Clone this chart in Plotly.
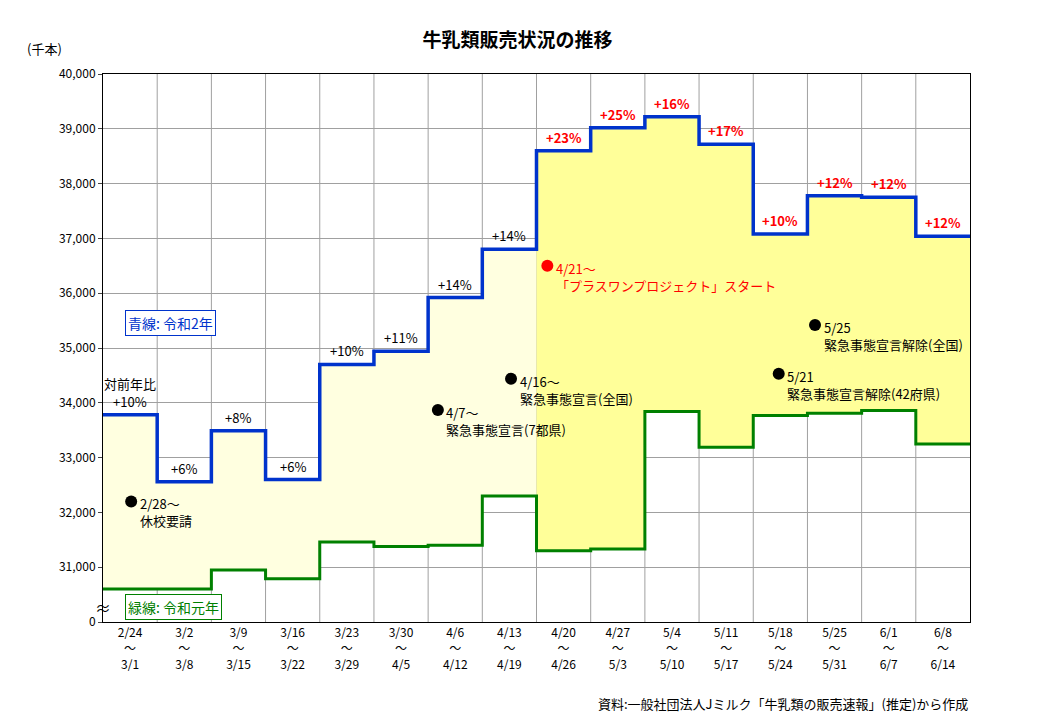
import plotly.graph_objects as go

weeks = ["2/24<br>～<br>3/1", "3/2<br>～<br>3/8", "3/9<br>～<br>3/15", "3/16<br>～<br>3/22",
         "3/23<br>～<br>3/29", "3/30<br>～<br>4/5", "4/6<br>～<br>4/12", "4/13<br>～<br>4/19",
         "4/20<br>～<br>4/26", "4/27<br>～<br>5/3", "5/4<br>～<br>5/10", "5/11<br>～<br>5/17",
         "5/18<br>～<br>5/24", "5/25<br>～<br>5/31", "6/1<br>～<br>6/7", "6/8<br>～<br>6/14"]
r2_sales = [33780, 32560, 33490, 32600, 34700, 34940, 35920, 36800,
            38600, 39020, 39220, 38720, 37080, 37780, 37750, 37040]
r1_sales = [30600, 30600, 30950, 30790, 31460, 31380, 31400, 32300,
            31300, 31330, 33840, 33190, 33770, 33810, 33860, 33250]
yoy = ["+10%", "+6%", "+8%", "+6%", "+10%", "+11%", "+14%", "+14%",
       "+23%", "+25%", "+16%", "+17%", "+10%", "+12%", "+12%", "+12%"]

events = [
    (0.52, 32200, "2/28～<br>休校要請", "black"),
    (6.18, 33870, "4/7～<br>緊急事態宣言(7都県)", "black"),
    (7.53, 34440, "4/16～<br>緊急事態宣言(全国)", "black"),
    (8.2, 36500, "4/21～<br>「プラスワンプロジェクト」スタート", "red"),
    (12.47, 34530, "5/21<br>緊急事態宣言解除(42府県)", "black"),
    (13.14, 35420, "5/25<br>緊急事態宣言解除(全国)", "black"),
]

FONT = "Noto Sans CJK JP"


def steps(vals, start, end):
    xs, ys = [], []
    for i in range(start, end):
        xs += [i, i + 1]
        ys += [vals[i], vals[i]]
    return xs, ys


fig = go.Figure()

# shaded areas between the two years
for (a, b, col) in [(0, 8, "#FFFFE0"), (8, 16, "#FFFF99")]:
    gx, gy = steps(r1_sales, a, b)
    bx, by = steps(r2_sales, a, b)
    fig.add_trace(go.Scatter(x=gx, y=gy, mode="lines", line=dict(width=0),
                             showlegend=False, hoverinfo="skip"))
    fig.add_trace(go.Scatter(x=bx, y=by, mode="lines", line=dict(width=0),
                             fill="tonexty", fillcolor=col,
                             showlegend=False, hoverinfo="skip"))

gx, gy = steps(r1_sales, 0, 16)
bx, by = steps(r2_sales, 0, 16)
fig.add_trace(go.Scatter(x=gx, y=gy, mode="lines", line=dict(color="#008000", width=3),
                         showlegend=False))
fig.add_trace(go.Scatter(x=bx, y=by, mode="lines", line=dict(color="#0033CC", width=3.5),
                         showlegend=False))

fig.add_trace(go.Scatter(x=[e[0] for e in events], y=[e[1] for e in events], mode="markers",
                         marker=dict(size=12, color=[e[3] for e in events]),
                         showlegend=False))
for x, y, t, c in events:
    fig.add_annotation(x=x + 0.12, y=y, text=t, showarrow=False, xanchor="left",
                       yanchor="top", yshift=9, align="left",
                       font=dict(size=13, color=c, family=FONT))

for i, (v, t) in enumerate(zip(r2_sales, yoy)):
    red = i >= 8
    fig.add_annotation(x=i + 0.5, y=v, text=("<b>%s</b>" % t) if red else t,
                       showarrow=False, yanchor="bottom", yshift=2,
                       font=dict(size=13, color="red" if red else "black", family=FONT))
fig.add_annotation(x=0.5, y=r2_sales[0], text="対前年比", showarrow=False,
                   yanchor="bottom", yshift=20, font=dict(size=13, family=FONT))

fig.add_annotation(x=0.4, y=35450, text="青線: 令和2年", showarrow=False, xanchor="left",
                   bordercolor="#0033CC", borderwidth=1, bgcolor="white", borderpad=2,
                   font=dict(size=14, color="#0033CC", family=FONT))
fig.add_annotation(x=0.4, y=30280, text="緑線: 令和元年", showarrow=False, xanchor="left",
                   bordercolor="#008000", borderwidth=1, bgcolor="white", borderpad=2,
                   font=dict(size=14, color="#008000", family=FONT))
fig.add_annotation(x=0.0, y=30280, text="≈", showarrow=False, xanchor="center",
                   font=dict(size=16, family=FONT))

fig.add_annotation(xref="paper", yref="paper", x=-0.09, y=1.0, yshift=14, text="(千本)",
                   showarrow=False, xanchor="left", yanchor="bottom",
                   font=dict(size=13, family=FONT))
fig.add_annotation(xref="paper", yref="paper", x=1.0, y=0, yshift=-70,
                   text="資料:一般社団法人Jミルク「牛乳類の販売速報」(推定)から作成",
                   showarrow=False, xanchor="right", yanchor="top",
                   font=dict(size=13, family=FONT))

ticks = list(range(30000, 40001, 1000))
fig.update_layout(
    width=1040, height=720, paper_bgcolor="white", plot_bgcolor="white",
    margin=dict(l=95, r=78, t=66, b=106),
    title=dict(text="<b>牛乳類販売状況の推移</b>", x=0.49, y=0.965,
               font=dict(size=19, family=FONT, color="black")),
    font=dict(family=FONT, color="black"),
    xaxis=dict(range=[0, 16], tickvals=[i + 0.5 for i in range(16)], ticktext=weeks,
               showgrid=False, showline=True, linecolor="black", mirror=True,
               tickfont=dict(size=12), zeroline=False),
    yaxis=dict(range=[30000, 40000], tickvals=ticks,
               ticktext=["0"] + ["{:,}".format(t) for t in ticks[1:]],
               gridcolor="#A0A0A0", gridwidth=1, showline=True, linecolor="black",
               mirror=True, ticks="outside", ticklen=4, tickfont=dict(size=12), zeroline=False),
)
for i in range(1, 16):
    fig.add_vline(x=i, line=dict(color="#A0A0A0", width=1), layer="below")

fig.write_html("out.html")
